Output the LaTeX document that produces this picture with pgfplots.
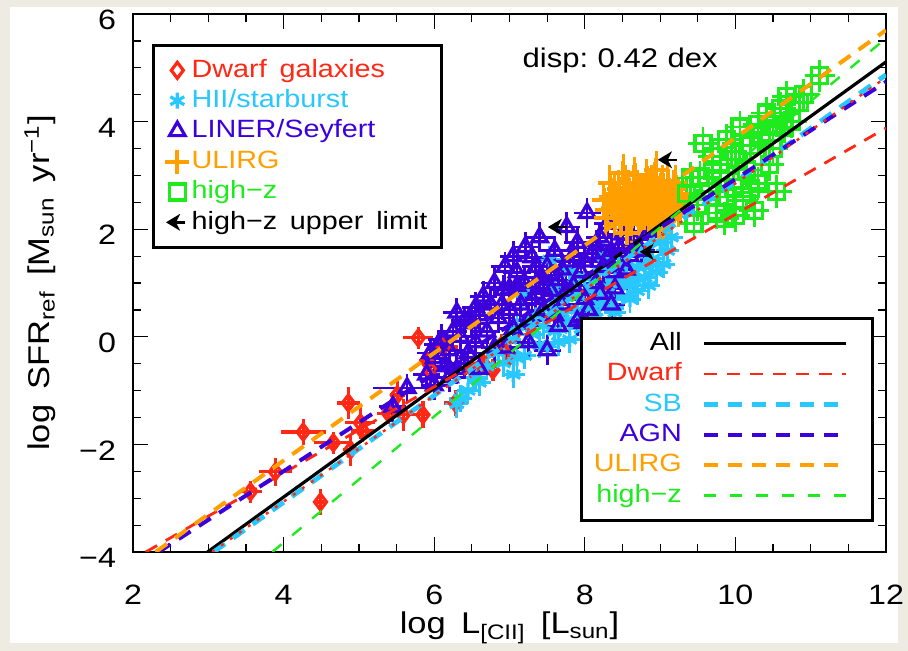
\documentclass[border=0pt]{standalone}
\usepackage{pgfplots}
\pgfplotsset{compat=1.18}
\usepackage{fontspec}
\setmainfont[FakeStretch=1.15, WordSpace=1.6]{Liberation Sans}
\definecolor{dwf}{RGB}{255,40,20}
\definecolor{sbc}{RGB}{40,200,255}
\definecolor{agn}{RGB}{60,0,220}
\definecolor{ulg}{RGB}{255,160,0}
\definecolor{hiz}{RGB}{30,235,30}
\definecolor{bgbeige}{RGB}{238,235,227}
\pgfdeclareplotmark{ularrow}{%
  \pgfpathmoveto{\pgfqpoint{0.9\pgfplotmarksize}{0pt}}%
  \pgfpathlineto{\pgfqpoint{-0.4\pgfplotmarksize}{0pt}}%
  \pgfusepathqstroke
  \pgfpathmoveto{\pgfqpoint{-1\pgfplotmarksize}{0pt}}%
  \pgfpathlineto{\pgfqpoint{0\pgfplotmarksize}{0.6\pgfplotmarksize}}%
  \pgfpathlineto{\pgfqpoint{-0.3\pgfplotmarksize}{0pt}}%
  \pgfpathlineto{\pgfqpoint{0\pgfplotmarksize}{-0.6\pgfplotmarksize}}%
  \pgfpathclose
  \pgfusepathqfillstroke
}
\begin{document}
\begin{tikzpicture}
\fill[bgbeige] (0,0) rectangle (454bp,325.5bp);
\fill[white] (5bp,4bp) rectangle (449bp,322bp);
\begin{axis}[
  at={(66.5bp,49.5bp)}, anchor=south west,
  scale only axis, width=376.5bp, height=269bp,
  xmin=2, xmax=12, ymin=-4, ymax=6,
  xtick={2,4,...,12}, ytick={-4,-2,...,6},
  xticklabels={2,4,6,8,10,12},
  yticklabels={−4,−2,0,2,4,6},
  minor x tick num=3, minor y tick num=3,
  tick align=inside,
  major tick length=7.5bp, minor tick length=4bp,
  tick style={black, line width=0.6bp},
  axis line style={line width=1bp},
  ticklabel style={font=\fontsize{14bp}{16bp}\selectfont},
  xticklabel style={anchor=north, yshift=-13bp},
  yticklabel style={anchor=east, xshift=-5bp, yshift=-3bp},
  label style={font=\fontsize{15bp}{18bp}\selectfont},
  xlabel={log L\textsubscript{[CII]} [L\textsubscript{sun}]},
  ylabel={log SFR\textsubscript{ref} [M\textsubscript{sun} yr\textsuperscript{−1}]},
  xlabel style={at={(axis description cs:0.5,-0.141)}, anchor=center},
  ylabel style={at={(axis description cs:-0.1235,0.5)}, anchor=center},
  legend cell align=left,
  legend style={at={(0.025,0.944)}, anchor=north west, draw=black, line width=1.5bp,
    fill=white, inner xsep=6bp, inner ysep=5bp, row sep=0.5bp,
    font=\fontsize{12.5bp}{15bp}\selectfont,
    nodes={inner sep=1.2bp, text height=9.5bp, text depth=2.8bp}},
]
% Dwarf galaxies
\addplot[only marks, color=dwf, mark=diamond, mark size=4bp, mark options={line width=1.6bp},
  error bars/.cd, x dir=both, x explicit, y dir=both, y explicit, error mark=none,
  error bar style={line width=1.6bp}] coordinates {
(3.56,-2.88) +- (0.15,0.2)
(3.89,-2.51) +- (0.22,0.26)
(4.26,-1.77) +- (0.30,0.25)
(4.49,-3.07) +- (0.05,0.25)
(4.66,-1.97) +- (0.25,0.2)
(4.86,-1.23) +- (0.15,0.3)
(4.89,-2.10) +- (0.10,0.3)
(5.02,-1.60) +- (0.20,0.3)
(5.05,-1.75) +- (0.15,0.2)
(5.39,-1.42) +- (0.15,0.2)
(5.51,-1.08) +- (0.10,0.25)
(5.59,-1.45) +- (0.15,0.3)
(5.79,-0.02) +- (0.20,0.2)
(5.85,-1.45) +- (0.10,0.25)
(5.90,-0.45) +- (0.10,0.2)
(5.95,-0.62) +- (0.10,0.2)
(6.12,-0.19) +- (0.20,0.2)
(6.28,-1.23) +- (0.15,0.25)
(6.50,-0.60) +- (0.10,0.2)
(6.65,-0.49) +- (0.10,0.2)
(6.78,-0.62) +- (0.10,0.2)
(6.90,-0.15) +- (0.10,0.2)
(7.00,-0.35) +- (0.10,0.2)
};
\addlegendentry{\textcolor{dwf}{Dwarf galaxies}}
% HII / starburst
\addplot[only marks, color=sbc, mark=asterisk, mark size=4bp, mark options={line width=1.6bp},
  error bars/.cd, x dir=both, x fixed=0.15, y dir=both, y fixed=0.25, error mark=none,
  error bar style={line width=1.4bp}] coordinates {
(6.35,-1.15) (6.55,-0.75) (6.70,-0.55) (6.85,-0.30) (6.92,-0.49) (7.00,-0.05)
(7.05,-0.70) (7.10,0.20) (7.18,0.81) (7.20,-0.35) (7.30,0.05) (7.35,0.40)
(7.40,-0.15) (7.50,-0.19) (7.53,1.43) (7.55,0.55) (7.60,0.10) (7.70,0.75)
(7.75,0.30) (7.80,-0.05) (7.85,0.95) (7.90,0.50) (7.95,0.15) (8.00,1.10)
(8.05,0.65) (8.10,0.87) (8.15,0.35) (8.20,1.20) (8.25,0.80) (8.30,0.93)
(8.35,0.55) (8.40,1.05) (8.45,1.35) (8.50,0.75) (8.55,1.15) (8.60,0.95)
(8.70,1.30) (8.75,1.60) (8.80,1.10) (8.90,1.45) (9.00,1.75) (9.10,1.60)
(7.10,-0.40) (7.25,0.30) (7.45,0.20) (7.65,-0.10) (7.70,0.45) (7.90,0.80)
(8.00,0.30) (8.10,0.55) (8.20,0.60) (8.30,0.70) (8.40,0.45) (8.50,1.00)
(8.60,0.70) (8.65,1.05) (8.70,0.85) (8.80,1.30) (8.85,0.95) (8.95,1.20)
(9.05,1.35) (9.15,1.85) (7.60,0.90) (7.80,1.20) (8.25,1.50) (6.45,-1.00)
(6.60,-0.85) (6.30,-1.25)
};
\addlegendentry{\textcolor{sbc}{HII/starburst}}
% LINER / Seyfert
\addplot[only marks, color=agn, mark=triangle, mark size=4.5bp, mark options={line width=1.6bp},
  error bars/.cd, x dir=both, x fixed=0.18, y dir=both, y fixed=0.28, error mark=none,
  error bar style={line width=1.4bp}] coordinates {
(5.45,-1.30) (5.90,-0.70) (6.00,-0.40) (6.05,-0.15) (6.15,-0.55) (6.20,-0.25)
(6.30,-0.60) (6.35,0.00) (6.45,-0.30) (6.50,0.25) (6.55,-0.10) (6.60,0.40)
(6.70,0.10) (6.75,0.60) (6.80,-0.20) (6.85,0.35) (6.92,0.87) (6.94,1.30)
(7.00,0.50) (7.05,0.15) (7.10,0.95) (7.15,0.60) (7.21,1.67) (7.25,0.30)
(7.30,1.48) (7.35,0.80) (7.40,1.10) (7.45,0.50) (7.50,1.30) (7.55,0.85)
(7.60,1.60) (7.65,1.05) (7.70,0.60) (7.76,2.04) (7.80,1.40) (7.85,0.95)
(7.90,1.75) (7.95,1.20) (8.00,0.70) (8.03,2.30) (8.10,1.55) (8.15,1.00)
(8.20,1.85) (8.25,1.30) (8.30,2.10) (8.35,1.60) (8.40,1.20) (8.50,1.90)
(8.60,1.50) (8.70,2.40) (8.80,2.20) (7.50,-0.25) (7.98,0.26) (6.00,-0.90)
(6.20,-0.75) (6.40,-0.50)
(6.10,-0.05) (6.25,0.10) (6.40,0.30) (6.55,0.55) (6.65,0.75) (6.80,1.00)
(6.90,0.60) (7.00,0.90) (7.10,1.20) (7.20,1.00) (7.30,0.70) (7.35,1.30)
(7.45,0.90) (7.55,1.15) (7.60,0.40) (7.70,1.25) (7.75,0.85) (7.85,1.50)
(7.90,0.30) (8.00,1.40) (8.05,0.50) (8.15,1.70) (8.20,0.80) (8.30,1.45)
(8.40,0.90) (8.45,1.65) (8.55,1.25) (8.65,1.80) (8.75,1.60) (8.85,1.95)
(6.60,-0.60) (6.95,-0.20) (7.25,-0.10) (7.65,0.20) (8.10,0.10) (8.35,0.60)
(5.95,-0.30) (6.30,0.45) (7.05,1.50) (7.40,1.85)
};
\addlegendentry{\textcolor{agn}{LINER/Seyfert}}
\addplot[forget plot, only marks, color=agn, mark=triangle, mark size=4.5bp, mark options={line width=1.6bp},
  error bars/.cd, x dir=both, x fixed=0.45, y dir=both, y fixed=0.25, error mark=none,
  error bar style={line width=1.4bp}] coordinates {(5.64,-0.95)};
% ULIRG
\addplot[only marks, color=ulg, mark=+, mark size=6bp, mark options={line width=2bp},
  error bars/.cd, x dir=both, x fixed=0.15, y dir=both, y fixed=0.35, error mark=none,
  error bar style={line width=1.5bp}] coordinates {
(8.30,2.35) (8.35,2.60) (8.40,2.20) (8.45,2.75) (8.50,2.45) (8.51,3.04)
(8.55,2.30) (8.56,1.93) (8.60,2.60) (8.65,2.85) (8.70,2.40) (8.72,2.15)
(8.75,2.70) (8.80,2.50) (8.82,2.95) (8.85,2.30) (8.90,2.65) (8.92,2.45)
(8.95,2.80) (9.00,2.55) (9.02,2.30) (9.05,2.70) (9.08,2.45) (9.10,2.90)
(9.12,2.60) (9.15,2.35) (9.18,2.75) (9.20,2.50) (9.22,2.65) (8.62,2.10)
(8.78,2.20) (8.98,2.05) (8.42,2.50) (9.05,2.15) (8.88,2.85) (8.68,2.55)
(8.58,2.75) (9.25,2.40) (8.25,2.55) (8.95,3.10)
(8.28,2.20) (8.33,2.85) (8.38,2.40) (8.48,2.10) (8.52,2.65) (8.63,2.35)
(8.66,3.00) (8.70,2.75) (8.74,2.30) (8.80,2.70) (8.84,2.40) (8.87,2.10)
(8.93,2.90) (8.97,2.35) (9.03,2.85) (9.07,2.55) (9.13,2.20) (9.17,2.50)
(9.20,2.85) (9.24,2.60) (9.28,2.55) (8.46,2.30) (8.54,2.85) (8.60,2.25)
(8.76,2.55) (8.90,2.25) (9.00,2.70) (9.10,2.40) (8.40,2.65) (8.58,2.50)
};
\addlegendentry{\textcolor{ulg}{ULIRG}}
% high-z
\addplot[only marks, color=hiz, mark=square, mark size=4bp, mark options={line width=1.6bp},
  error bars/.cd, x dir=both, x fixed=0.2, y dir=both, y fixed=0.3, error mark=none,
  error bar style={line width=1.4bp}] coordinates {
(9.35,2.67) (9.40,2.95) (9.53,2.97) (9.50,2.45) (9.57,3.60) (9.65,2.70)
(9.70,3.35) (9.75,2.30) (9.80,3.05) (9.88,3.66) (9.90,2.60) (9.97,2.78)
(10.00,3.30) (10.06,3.90) (10.10,2.54) (10.15,3.10) (10.20,3.55) (10.25,2.35)
(10.30,2.85) (10.35,3.75) (10.41,4.16) (10.45,3.20) (10.50,3.95) (10.55,2.70)
(10.60,4.25) (10.68,4.46) (10.75,4.00) (10.85,4.35) (11.12,4.85) (10.00,2.25)
(9.45,2.10) (9.85,2.20) (10.20,2.75) (10.50,3.50) (10.65,3.90) (10.90,4.50)
(10.30,3.95) (9.70,3.10) (9.95,3.45)
};
\addlegendentry{\textcolor{hiz}{high−z}}
% upper limits
\addplot[only marks, color=black, mark=ularrow, mark size=4.5bp, mark options={line width=1.2bp}]
  coordinates {(7.66,2.04) (9.12,3.29) (8.88,1.58)};
\addlegendentry{high−z upper limit}
\node[font=\fontsize{13.5bp}{16bp}\selectfont] at (axis cs:8.47,5.14) {disp:\hspace{0.35em}0.42\hspace{0.35em}dex};
\end{axis}
\begin{axis}[
  at={(66.5bp,49.5bp)}, anchor=south west,
  scale only axis, width=376.5bp, height=269bp,
  xmin=2, xmax=12, ymin=-4, ymax=6,
  hide axis,
  legend plot pos=right, legend cell align=right,
  legend image code/.code={\draw[#1] (0bp,0bp) -- (71bp,0bp); \path[draw=none] (79bp,0bp) circle (0.1bp);},
  legend style={at={(0.984,0.056)}, anchor=south east, draw=black, line width=1.5bp,
    fill=white, inner xsep=5bp, inner ysep=5bp, row sep=0.5bp, column sep=8.8bp,
    font=\fontsize{12.5bp}{15bp}\selectfont,
    nodes={inner sep=1.2bp, text height=9.5bp, text depth=2.8bp}},
]
\addplot[black, line width=1.6bp] coordinates {(2.99,-4) (12,5.11)};
\addlegendentry{All}
\addplot[dwf, line width=1.4bp, dash pattern=on 6.5bp off 5bp] coordinates {(2.17,-4) (12,3.88)};
\addlegendentry{\textcolor{dwf}{Dwarf}}
\addplot[sbc, line width=2.4bp, dash pattern=on 7bp off 5bp] coordinates {(3.07,-4) (12,4.87)};
\addlegendentry{\textcolor{sbc}{SB}}
\addplot[agn, line width=2bp, dash pattern=on 7bp off 5bp] coordinates {(2.34,-4) (12,4.74)};
\addlegendentry{\textcolor{agn}{AGN}}
\addplot[ulg, line width=2bp, dash pattern=on 7bp off 5bp] coordinates {(2.30,-4) (12,5.70)};
\addlegendentry{\textcolor{ulg}{ULIRG}}
\addplot[hiz, line width=1.2bp, dash pattern=on 6bp off 7bp] coordinates {(3.85,-4) (12,5.55)};
\addlegendentry{\textcolor{hiz}{high−z}}
\addplot[forget plot, dwf, line width=1.2bp, dash pattern=on 1.5bp off 4bp] coordinates {(3.05,-4) (12,4.82)};
\end{axis}
\pgfresetboundingbox
\path[use as bounding box] (0,0) rectangle (454bp,325.5bp);
\end{tikzpicture}
\end{document}
